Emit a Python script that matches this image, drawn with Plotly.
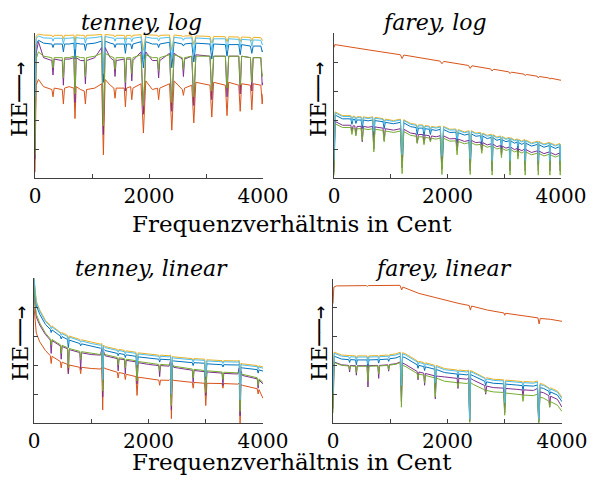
import plotly.graph_objects as go

# page body has an 8px default margin: figure is sized to fit the 596x483 window
OFF = 8
W, H = 596 - 2 * OFF, 483 - 2 * OFF

# ---------------- data (cents, harmonic entropy values) ----------------
tl_cents = [0, 20, 60, 150, 296, 316, 336, 478, 498, 518, 600, 682, 702, 722, 800, 864, 884, 904, 1050, 1170,
            1200, 1230, 1320, 1384, 1404, 1424, 1566, 1586, 1606, 1678, 1698, 1718, 1860, 1902, 1944, 2060, 2149,
            2169, 2189, 2360, 2400, 2440, 2584, 2604, 2624, 2750, 2786, 2822, 3070, 3102, 3134, 3340, 3369, 3398,
            3575, 3600, 3625, 3780, 3804, 3828, 3962, 3986, 4000]
tl_orange = [0.2, 3.2, 3.4, 3.15, 3.05, 2.8, 3.1, 3.05, 2.55, 3.1, 3.15, 3.1, 2.05, 3.15, 3.05, 3.0, 2.55, 3.05, 3.1,
             3.25, 0.8, 3.4, 3.2, 3.1, 2.75, 3.1, 3.1, 2.45, 3.1, 3.15, 2.7, 3.1, 3.25, 1.55, 3.35, 3.05, 3.1, 2.7,
             3.1, 3.25, 1.65, 3.35, 3.05, 2.85, 3.1, 3.2, 1.9, 3.3, 3.2, 2.1, 3.3, 3.2, 2.15, 3.3, 3.2, 2.3, 3.25,
             3.2, 2.35, 3.25, 3.2, 2.55, 2.9]
tl_purple = [0.65, 4.3, 4.7, 4.15, 4.05, 3.55, 4.1, 4.05, 3.2, 4.1, 4.1, 4.15, 2.6, 4.15, 4.05, 4.05, 3.25, 4.05, 4.15,
             4.5, 1.5, 4.5, 4.15, 4.05, 3.5, 4.05, 4.1, 3.0, 4.1, 4.1, 3.35, 4.05, 4.35, 2.2, 4.35, 4.05, 4.05, 3.45,
             4.05, 4.3, 2.3, 4.3, 4.1, 3.5, 4.1, 4.2, 2.5, 4.25, 4.2, 2.7, 4.2, 4.2, 2.8, 4.2, 4.2, 2.9, 4.2, 4.15,
             3.0, 4.15, 4.15, 3.2, 3.3]
tl_green = [0.8, 4.1, 4.35, 4.2, 4.15, 3.8, 4.15, 4.15, 3.45, 4.15, 4.15, 4.2, 2.9, 4.2, 4.15, 4.15, 3.5, 4.15, 4.2,
            4.3, 1.8, 4.3, 4.2, 4.15, 3.75, 4.15, 4.15, 3.3, 4.15, 4.15, 3.6, 4.15, 4.25, 2.5, 4.25, 4.15, 4.15, 3.7,
            4.15, 4.25, 2.6, 4.25, 4.15, 3.75, 4.15, 4.2, 2.8, 4.2, 4.2, 3.0, 4.2, 4.2, 3.1, 4.2, 4.2, 3.2, 4.2, 4.15,
            3.3, 4.15, 4.15, 3.5, 3.6]
tl_blue = [2.6, 4.6, 4.75, 4.65, 4.62, 4.5, 4.62, 4.62, 4.35, 4.62, 4.62, 4.65, 4.1, 4.65, 4.62, 4.62, 4.4, 4.62, 4.65,
           4.72, 3.3, 4.72, 4.65, 4.62, 4.5, 4.62, 4.62, 4.3, 4.62, 4.62, 4.45, 4.62, 4.7, 3.8, 4.7, 4.62, 4.62, 4.5,
           4.62, 4.68, 3.8, 4.68, 4.62, 4.55, 4.62, 4.65, 4.0, 4.65, 4.62, 4.1, 4.62, 4.6, 4.2, 4.6, 4.6, 4.25, 4.6,
           4.55, 4.3, 4.55, 4.55, 4.35, 4.4]
tl_lightblue = [2.8, 4.8, 4.9, 4.83, 4.82, 4.72, 4.82, 4.82, 4.62, 4.82, 4.82, 4.84, 4.45, 4.84, 4.82, 4.82, 4.65,
                4.82, 4.84, 4.88, 3.6, 4.88, 4.84, 4.82, 4.72, 4.82, 4.82, 4.58, 4.82, 4.82, 4.7, 4.82, 4.86, 4.1,
                4.86, 4.82, 4.82, 4.72, 4.82, 4.85, 4.1, 4.85, 4.82, 4.75, 4.82, 4.83, 4.3, 4.83, 4.8, 4.4, 4.8, 4.8,
                4.45, 4.8, 4.78, 4.5, 4.78, 4.76, 4.55, 4.76, 4.75, 4.6, 4.62]
tl_yellow = [3.2, 4.9, 4.96, 4.93, 4.92, 4.86, 4.92, 4.92, 4.8, 4.92, 4.92, 4.93, 4.7, 4.93, 4.92, 4.92, 4.82, 4.92,
             4.93, 4.95, 3.9, 4.95, 4.93, 4.92, 4.86, 4.92, 4.92, 4.78, 4.92, 4.92, 4.85, 4.92, 4.94, 4.4, 4.94,
             4.92, 4.92, 4.86, 4.92, 4.93, 4.4, 4.93, 4.9, 4.86, 4.9, 4.9, 4.6, 4.9, 4.88, 4.65, 4.88, 4.87, 4.7,
             4.87, 4.86, 4.7, 4.86, 4.85, 4.72, 4.85, 4.84, 4.75, 4.76]

tr_cents = [0, 20, 150, 296, 316, 336, 366, 386, 406, 478, 498, 518, 600, 682, 702, 722, 864, 884, 904, 1050,
            1170, 1200, 1230, 1350, 1447, 1467, 1487, 1566, 1586, 1606, 1678, 1698, 1718, 1800, 1872, 1902, 1932,
            2040, 2149, 2169, 2189, 2300, 2380, 2400, 2420, 2500, 2584, 2604, 2624, 2700, 2771, 2786, 2801, 2870,
            2936, 2951, 2966, 3030, 3089, 3102, 3115, 3180, 3228, 3241, 3254, 3310, 3357, 3369, 3381, 3480, 3589,
            3600, 3611, 3700, 3794, 3804, 3814, 3900, 3976, 3986, 3996, 4000]
tr_lightblue = [0.6, 2.25, 2.12, 2.12, 1.95, 2.1, 2.1, 1.98, 2.08, 2.08, 1.85, 2.08, 2.05, 2.08, 1.6, 2.06, 2.02,
                1.85, 2.0, 1.95, 2.0, 0.8, 1.98, 1.85, 1.82, 1.65, 1.8, 1.8, 1.6, 1.78, 1.76, 1.62, 1.75, 1.72,
                1.76, 0.75, 1.75, 1.65, 1.66, 1.35, 1.64, 1.56, 1.6, 0.65, 1.6, 1.52, 1.54, 1.3, 1.52, 1.44, 1.48,
                0.6, 1.47, 1.38, 1.42, 1.15, 1.4, 1.33, 1.37, 0.6, 1.36, 1.28, 1.32, 1.1, 1.3, 1.24, 1.3, 0.6, 1.28,
                1.18, 1.24, 0.6, 1.23, 1.14, 1.2, 0.6, 1.18, 1.1, 1.16, 0.6, 1.14, 0.75]
tr_yellow = [1.0, 2.28, 2.15, 2.15, 2.05, 2.13, 2.13, 2.05, 2.11, 2.11, 1.95, 2.11, 2.08, 2.11, 1.75, 2.09, 2.05,
             1.95, 2.03, 1.98, 2.03, 1.0, 2.01, 1.88, 1.85, 1.72, 1.83, 1.83, 1.68, 1.81, 1.79, 1.7, 1.78, 1.75,
             1.79, 0.95, 1.78, 1.68, 1.69, 1.45, 1.67, 1.59, 1.63, 0.85, 1.63, 1.55, 1.57, 1.4, 1.55, 1.47, 1.51,
             0.8, 1.5, 1.41, 1.45, 1.25, 1.43, 1.36, 1.4, 0.8, 1.39, 1.31, 1.35, 1.2, 1.33, 1.27, 1.33, 0.8, 1.31,
             1.21, 1.27, 0.8, 1.26, 1.17, 1.23, 0.8, 1.21, 1.13, 1.19, 0.8, 1.17, 0.95]
tr_blue = [0.4, 2.17, 2.04, 2.04, 1.85, 2.02, 2.02, 1.88, 2.0, 2.0, 1.7, 2.0, 1.97, 2.0, 1.4, 1.98, 1.94, 1.7, 1.92,
           1.87, 1.92, 0.6, 1.9, 1.77, 1.74, 1.5, 1.72, 1.72, 1.45, 1.7, 1.68, 1.5, 1.67, 1.64, 1.68, 0.55, 1.67,
           1.57, 1.58, 1.2, 1.56, 1.48, 1.52, 0.45, 1.52, 1.44, 1.46, 1.15, 1.44, 1.36, 1.4, 0.45, 1.39, 1.3, 1.34,
           1.0, 1.32, 1.25, 1.29, 0.45, 1.28, 1.2, 1.24, 0.95, 1.22, 1.16, 1.22, 0.45, 1.2, 1.1, 1.16, 0.45, 1.15,
           1.06, 1.12, 0.45, 1.1, 1.02, 1.08, 0.45, 1.06, 0.6]
tr_purple = [0.2, 1.95, 1.82, 1.82, 1.6, 1.8, 1.8, 1.5, 1.78, 1.78, 1.25, 1.78, 1.75, 1.78, 1.0, 1.76, 1.72, 1.3,
             1.7, 1.65, 1.7, 0.35, 1.68, 1.55, 1.52, 1.2, 1.5, 1.5, 1.2, 1.48, 1.46, 1.3, 1.45, 1.42, 1.46, 0.3,
             1.45, 1.35, 1.36, 0.95, 1.34, 1.26, 1.3, 0.25, 1.3, 1.22, 1.24, 0.95, 1.22, 1.14, 1.18, 0.25, 1.17,
             1.08, 1.12, 0.8, 1.1, 1.03, 1.07, 0.25, 1.06, 0.98, 1.02, 0.75, 1.0, 0.94, 1.0, 0.25, 0.98, 0.88, 0.94,
             0.25, 0.93, 0.84, 0.9, 0.25, 0.88, 0.8, 0.86, 0.25, 0.84, 0.45]
tr_green = [0.1, 1.87, 1.74, 1.74, 1.5, 1.72, 1.72, 1.45, 1.7, 1.7, 1.3, 1.7, 1.67, 1.7, 0.9, 1.68, 1.64, 1.25,
            1.62, 1.57, 1.62, 0.15, 1.6, 1.47, 1.44, 1.2, 1.42, 1.42, 1.15, 1.4, 1.38, 1.25, 1.37, 1.34, 1.38, 0.12,
            1.37, 1.27, 1.28, 0.8, 1.26, 1.18, 1.22, 0.12, 1.22, 1.14, 1.16, 0.85, 1.14, 1.06, 1.1, 0.1, 1.09, 1.0,
            1.04, 0.7, 1.02, 0.95, 0.99, 0.1, 0.98, 0.9, 0.94, 0.65, 0.92, 0.86, 0.92, 0.1, 0.9, 0.8, 0.86, 0.1,
            0.85, 0.76, 0.82, 0.1, 0.8, 0.72, 0.78, 0.1, 0.76, 0.3]
tr_orange_cents = [0, 15, 600, 1170, 1200, 1230, 1870, 1902, 1934, 2370, 2400, 2430, 2760, 2786, 2812, 3080, 3102,
                   3124, 3350, 3369, 3388, 3580, 3600, 3620, 3785, 3804, 3823, 4000]
tr_orange = [4.5, 4.6, 4.42, 4.25, 4.12, 4.24, 4.03, 3.94, 4.02, 3.88, 3.78, 3.87, 3.76, 3.69, 3.75, 3.66, 3.6,
             3.65, 3.58, 3.53, 3.57, 3.51, 3.45, 3.5, 3.45, 3.41, 3.44, 3.37]

bl_cents = [0, 15, 40, 100, 200, 285, 300, 315, 460, 475, 490, 585, 600, 615, 800, 815, 830, 1000, 1160, 1185,
            1200, 1215, 1240, 1455, 1470, 1485, 1580, 1595, 1610, 1780, 1800, 1820, 2000, 2180, 2195, 2210, 2360,
            2385, 2400, 2415, 2440, 2765, 2780, 2795, 2980, 3000, 3020, 3285, 3300, 3315, 3560, 3585, 3600, 3615,
            3640, 3900, 3915, 3930, 4000]
bl_lightblue = [5.0, 4.55, 4.15, 3.85, 3.5, 3.33, 3.25, 3.31, 3.1, 3.02, 3.08, 2.98, 2.75, 2.96, 2.84, 2.78, 2.83,
                2.74, 2.68, 2.7, 1.5, 2.65, 2.6, 2.5, 2.44, 2.5, 2.46, 2.38, 2.45, 2.4, 2.0, 2.38, 2.34, 2.3, 2.22,
                2.3, 2.28, 2.3, 1.0, 2.26, 2.24, 2.18, 2.1, 2.18, 2.16, 1.6, 2.14, 2.11, 2.05, 2.11, 2.1, 2.12, 0.8,
                2.02, 2.0, 1.94, 1.85, 1.93, 1.89]
bl_yellow = [5.0, 4.6, 4.2, 3.9, 3.54, 3.37, 3.32, 3.35, 3.14, 3.1, 3.12, 3.02, 2.88, 3.0, 2.88, 2.85, 2.87, 2.78,
             2.72, 2.74, 1.7, 2.69, 2.64, 2.54, 2.5, 2.54, 2.5, 2.45, 2.49, 2.44, 2.2, 2.42, 2.38, 2.34, 2.3, 2.34,
             2.32, 2.34, 1.2, 2.3, 2.28, 2.22, 2.16, 2.22, 2.2, 1.8, 2.18, 2.15, 2.1, 2.15, 2.14, 2.16, 1.0, 2.06,
             2.04, 1.98, 1.92, 1.97, 1.93]
bl_blue = [4.98, 4.45, 4.05, 3.75, 3.4, 3.23, 3.12, 3.21, 3.0, 2.9, 2.98, 2.88, 2.6, 2.86, 2.74, 2.66, 2.73, 2.64,
           2.58, 2.6, 1.4, 2.55, 2.5, 2.4, 2.32, 2.4, 2.36, 2.26, 2.35, 2.3, 1.9, 2.28, 2.24, 2.2, 2.1, 2.2, 2.18,
           2.2, 0.9, 2.16, 2.14, 2.08, 1.98, 2.08, 2.06, 1.5, 2.04, 2.01, 1.93, 2.01, 2.0, 2.02, 0.7, 1.92, 1.9,
           1.84, 1.72, 1.83, 1.79]
bl_green = [4.9, 4.2, 3.75, 3.45, 3.1, 2.9, 2.7, 2.88, 2.7, 2.4, 2.68, 2.6, 1.9, 2.57, 2.47, 2.2, 2.46, 2.4, 2.36,
            2.45, 1.1, 2.42, 2.36, 2.26, 2.0, 2.25, 2.22, 1.9, 2.2, 2.15, 1.45, 2.12, 2.06, 2.02, 1.8, 2.02, 2.0,
            2.05, 0.6, 2.0, 1.96, 1.86, 1.55, 1.85, 1.81, 1.05, 1.8, 1.76, 1.5, 1.75, 1.73, 1.78, 0.4, 1.72, 1.68,
            1.56, 1.3, 1.52, 1.4]
bl_purple = [4.85, 4.1, 3.65, 3.38, 3.05, 2.86, 2.4, 2.84, 2.66, 2.2, 2.64, 2.56, 1.7, 2.53, 2.43, 1.85, 2.42, 2.36,
             2.34, 2.55, 0.9, 2.48, 2.32, 2.22, 1.8, 2.21, 2.18, 1.7, 2.16, 2.11, 1.35, 2.08, 2.02, 1.98, 1.6, 1.98,
             1.96, 2.15, 0.45, 2.05, 1.92, 1.82, 1.4, 1.81, 1.77, 0.95, 1.76, 1.72, 1.3, 1.71, 1.69, 1.9, 0.25,
             1.78, 1.64, 1.52, 1.2, 1.48, 1.35]
bl_orange = [4.0, 3.55, 3.1, 2.8, 2.5, 2.32, 2.05, 2.3, 2.12, 1.9, 2.1, 2.02, 1.7, 2.0, 1.92, 1.7, 1.92, 1.88, 1.86,
             1.92, 0.45, 1.92, 1.88, 1.75, 1.55, 1.74, 1.7, 1.5, 1.68, 1.6, 0.95, 1.58, 1.52, 1.48, 1.3, 1.48, 1.47,
             1.52, 0.15, 1.5, 1.47, 1.4, 1.2, 1.4, 1.37, 0.6, 1.37, 1.36, 1.2, 1.36, 1.34, 1.38, 0.0, 1.32, 1.3,
             1.18, 1.0, 1.15, 0.85]

br_cents = [0, 20, 150, 275, 290, 305, 393, 408, 423, 595, 611, 627, 783, 798, 813, 957, 972, 987, 1100, 1175,
            1195, 1215, 1260, 1470, 1485, 1500, 1585, 1600, 1615, 1700, 1770, 1787, 1804, 1950, 2168, 2183, 2198,
            2340, 2370, 2387, 2404, 2450, 2650, 2667, 2684, 2800, 2980, 2999, 3018, 3200, 3304, 3319, 3334, 3500,
            3570, 3593, 3616, 3680, 3770, 3785, 3800, 3920, 4000]
br_lightblue = [1.0, 2.42, 2.32, 2.3, 2.22, 2.3, 2.29, 2.15, 2.29, 2.29, 2.05, 2.29, 2.3, 2.2, 2.3, 2.32, 2.25,
                2.33, 2.36, 2.42, 1.3, 2.4, 2.37, 2.12, 2.02, 2.1, 2.06, 1.95, 2.05, 2.0, 1.97, 1.4, 1.96, 1.85,
                1.8, 1.7, 1.8, 1.77, 1.8, 0.15, 1.78, 1.74, 1.55, 1.45, 1.53, 1.48, 1.46, 0.7, 1.45, 1.42, 1.4,
                1.3, 1.4, 1.38, 1.42, 0.15, 1.33, 1.3, 1.2, 1.1, 1.18, 1.07, 0.84]
br_yellow = [1.2, 2.46, 2.36, 2.34, 2.32, 2.34, 2.33, 2.25, 2.33, 2.33, 2.15, 2.33, 2.34, 2.3, 2.34, 2.36, 2.32,
             2.37, 2.4, 2.46, 1.5, 2.44, 2.41, 2.16, 2.1, 2.14, 2.1, 2.05, 2.09, 2.04, 2.01, 1.6, 2.0, 1.89, 1.84,
             1.8, 1.84, 1.81, 1.84, 0.3, 1.82, 1.78, 1.59, 1.55, 1.57, 1.52, 1.5, 0.9, 1.49, 1.46, 1.44, 1.4, 1.44,
             1.42, 1.46, 0.3, 1.37, 1.34, 1.24, 1.2, 1.22, 1.11, 0.9]
br_blue = [0.8, 2.32, 2.22, 2.2, 2.1, 2.2, 2.19, 2.02, 2.19, 2.19, 1.9, 2.19, 2.2, 2.08, 2.2, 2.22, 2.14, 2.23, 2.26,
           2.32, 1.1, 2.3, 2.27, 2.02, 1.9, 2.0, 1.96, 1.82, 1.95, 1.9, 1.87, 1.2, 1.86, 1.75, 1.7, 1.55, 1.7, 1.67,
           1.7, 0.08, 1.68, 1.64, 1.45, 1.3, 1.43, 1.38, 1.36, 0.55, 1.35, 1.32, 1.3, 1.15, 1.3, 1.28, 1.32, 0.08,
           1.23, 1.2, 1.1, 0.98, 1.08, 0.97, 0.74]
br_purple = [0.5, 2.12, 2.02, 2.0, 1.77, 2.0, 1.99, 1.66, 1.99, 1.99, 1.25, 1.99, 2.0, 1.55, 2.0, 2.02, 1.8, 2.03,
             2.06, 2.12, 0.75, 2.08, 2.04, 1.79, 1.5, 1.77, 1.73, 1.31, 1.72, 1.67, 1.64, 0.84, 1.63, 1.6, 1.55,
             1.2, 1.55, 1.52, 1.57, 0.05, 1.55, 1.49, 1.3, 1.0, 1.28, 1.23, 1.21, 0.35, 1.2, 1.17, 1.15, 0.95, 1.15,
             1.13, 1.2, 0.02, 1.08, 1.05, 0.95, 0.55, 0.93, 0.82, 0.55]
br_green = [0.35, 2.1, 2.0, 1.98, 1.85, 1.98, 1.97, 1.75, 1.97, 1.97, 1.45, 1.97, 1.98, 1.7, 1.98, 2.0, 1.85, 2.01,
            2.04, 2.1, 0.55, 2.0, 1.97, 1.72, 1.55, 1.7, 1.66, 1.4, 1.65, 1.6, 1.57, 0.9, 1.56, 1.45, 1.4, 1.25,
            1.4, 1.37, 1.42, 0.02, 1.4, 1.34, 1.15, 1.05, 1.13, 1.08, 1.06, 0.27, 1.04, 1.0, 0.98, 0.75, 0.97, 0.95,
            1.0, 0.0, 0.9, 0.86, 0.76, 0.55, 0.74, 0.62, 0.4]
br_orange_cents = [0, 15, 60, 585, 600, 615, 1170, 1200, 1220, 1500, 1800, 2000, 2200, 2380, 2400, 2420, 2700,
                   2985, 3000, 3015, 3300, 3580, 3600, 3620, 3800, 4000]
br_orange = [4.15, 4.72, 4.76, 4.77, 4.74, 4.77, 4.78, 4.62, 4.72, 4.5, 4.35, 4.24, 4.15, 4.08, 3.92, 4.06, 3.92,
             3.82, 3.74, 3.81, 3.72, 3.65, 3.44, 3.63, 3.6, 3.53]

x_tickvals = [0, 1000, 2000, 3000, 4000]
x_ticktext = ["0", "", "2000", "", "4000"]
titles = ["tenney, log", "farey, log", "tenney, linear", "farey, linear"]
x_title = "Frequenzverhältnis in Cent"
y_title = 'HE<span style="font-family:DejaVu Sans Mono">──→</span>'

# ---------------- styling ----------------
COL = {"blue": "#0072BD", "orange": "#D95319", "yellow": "#EDB120",
       "purple": "#7E2F8E", "green": "#77AC30", "lightblue": "#4DBEEE"}
ORDER = ["blue", "orange", "yellow", "purple", "green", "lightblue"]
FONT = "DejaVu Serif"
AX = "#404040"


def px(x):
    return (x - OFF) / W


def py(y):
    return 1 - (y - OFF) / H


panels = [
    dict(cents=tl_cents, ocents=tl_cents,
         s=dict(blue=tl_blue, orange=tl_orange, yellow=tl_yellow, purple=tl_purple, green=tl_green,
                lightblue=tl_lightblue),
         box=(35, 263, 33, 178), title_xy=(141, 22), he_xy=(20, 100)),
    dict(cents=tr_cents, ocents=tr_orange_cents,
         s=dict(blue=tr_blue, orange=tr_orange, yellow=tr_yellow, purple=tr_purple, green=tr_green,
                lightblue=tr_lightblue),
         box=(334, 561, 33, 178), title_xy=(434, 22), he_xy=(319, 100)),
    dict(cents=bl_cents, ocents=bl_cents,
         s=dict(blue=bl_blue, orange=bl_orange, yellow=bl_yellow, purple=bl_purple, green=bl_green,
                lightblue=bl_lightblue),
         box=(34, 263, 278, 423), title_xy=(151, 268), he_xy=(20, 344)),
    dict(cents=br_cents, ocents=br_orange_cents,
         s=dict(blue=br_blue, orange=br_orange, yellow=br_yellow, purple=br_purple, green=br_green,
                lightblue=br_lightblue),
         box=(333, 562, 279, 423), title_xy=(444, 268), he_xy=(319, 344)),
]

fig = go.Figure()
layout = dict(width=W, height=H, margin=dict(l=0, r=0, t=0, b=0, autoexpand=False),
              paper_bgcolor="white", plot_bgcolor="white", showlegend=False,
              font=dict(family=FONT, color="black"))
annotations = []

for i, p in enumerate(panels):
    n = "" if i == 0 else str(i + 1)
    x0, x1, y0, y1 = p["box"]
    for key in ORDER:
        xs = p["ocents"] if key == "orange" else p["cents"]
        fig.add_trace(go.Scatter(x=xs, y=p["s"][key], mode="lines",
                                 line=dict(color=COL[key], width=1),
                                 xaxis="x" + n, yaxis="y" + n, hoverinfo="skip"))
    layout["xaxis" + n] = dict(domain=[px(x0), px(x1)], range=[0, 4000], anchor="y" + n, automargin=False,
                               tickvals=x_tickvals, ticktext=x_ticktext, ticks="inside", ticklen=4,
                               tickcolor=AX, showline=True, linecolor=AX, linewidth=1,
                               showgrid=False, zeroline=False, ticklabelstandoff=0,
                               tickfont=dict(family=FONT, size=20, color="black"))
    layout["yaxis" + n] = dict(domain=[py(y1), py(y0)], range=[0, 5], anchor="x" + n, automargin=False,
                               tickvals=[0, 1, 2, 3, 4, 5], ticks="inside", ticklen=4, tickcolor=AX,
                               showticklabels=False, showline=True, linecolor=AX, linewidth=1,
                               showgrid=False, zeroline=False)
    tx, ty = p["title_xy"]
    annotations.append(dict(x=px(tx), y=py(ty), xref="paper", yref="paper", showarrow=False,
                            text="<i>" + titles[i] + "</i>", xanchor="center", yanchor="middle",
                            font=dict(family=FONT, size=22, color="black")))
    hx, hy = p["he_xy"]
    annotations.append(dict(x=px(hx), y=py(hy), xref="paper", yref="paper", showarrow=False,
                            text=y_title, textangle=-90, xanchor="center", yanchor="middle",
                            font=dict(family=FONT, size=22, color="black")))

for yy in (224, 462):
    annotations.append(dict(x=px(292), y=py(yy), xref="paper", yref="paper", showarrow=False,
                            text=x_title, xanchor="center", yanchor="middle",
                            font=dict(family=FONT, size=23, color="black")))

layout["annotations"] = annotations
fig.update_layout(**layout)
fig.write_html("out.html")
